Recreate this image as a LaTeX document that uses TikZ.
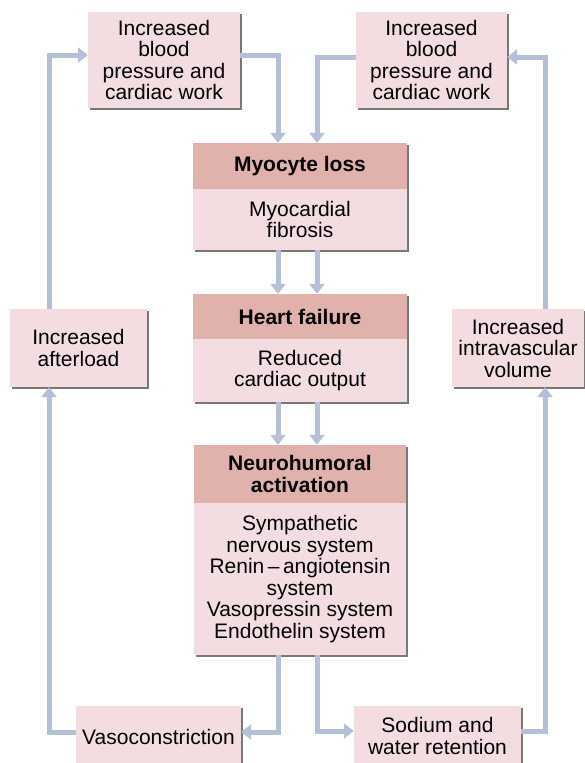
\documentclass[tikz,border=0pt]{standalone}
\usepackage{fontspec}
\setmainfont{Liberation Sans}
\usetikzlibrary{arrows.meta,positioning,calc,shadows}
\definecolor{headcolor}{RGB}{225,177,171}
\definecolor{bodycolor}{RGB}{243,221,224}
\definecolor{linkcolor}{RGB}{180,191,216}
\definecolor{edgecolor}{RGB}{120,120,120}

\begin{document}
\begin{tikzpicture}[
    x=1pt, y=-1pt,
    box/.style={rectangle, fill=bodycolor, inner sep=0pt, align=center, font=\fontsize{21}{21.5}\selectfont,
        drop shadow={shadow xshift=1.5pt, shadow yshift=-1.5pt, fill=edgecolor, opacity=1}},
    head/.style={box, fill=headcolor, font=\fontsize{21}{21.5}\selectfont\bfseries},
    link/.style={draw=linkcolor, line width=5pt, -{Triangle[width=15pt,length=10pt]}}
]
\useasboundingbox (0,0) rectangle (585,763);
\clip (0,0) rectangle (585,763);

% central chain
\node[head, minimum width=214, minimum height=46] (myo) at (300,166) {Myocyte loss};
\node[box, minimum width=214, minimum height=61] (myob) at (300,219.5) {Myocardial\\fibrosis};
\node[head, minimum width=214, minimum height=45] (hf) at (300,316.5) {Heart failure};
\node[box, minimum width=214, minimum height=63] (hfb) at (300,370.5) {Reduced\\cardiac output};
\node[head, minimum width=212, minimum height=58] (neu) at (300,474) {Neurohumoral\\activation};
\node[box, minimum width=212, minimum height=152] (neub) at (300,579) {Sympathetic\\nervous system\\Renin\,--\,angiotensin\\system\\Vasopressin system\\Endothelin system};

% feedback boxes
\node[box, minimum width=152, minimum height=96] (lt) at (164,60) {Increased\\blood\\pressure and\\cardiac work};
\node[box, minimum width=151, minimum height=96] (rt) at (431.5,60) {Increased\\blood\\pressure and\\cardiac work};
\node[box, minimum width=137, minimum height=78] (aft) at (78.5,348) {Increased\\afterload};
\node[box, minimum width=132, minimum height=78] (vol) at (518,348) {Increased\\intravascular\\volume};
\node[box, minimum width=165, minimum height=62] (vas) at (158.5,737) {Vasoconstriction};
\node[box, minimum width=167, minimum height=60] (sod) at (437.5,736) {Sodium and\\water retention};

\draw[link] ($(myob.south)+(-22,0)$) -- ($(hf.north)+(-22,0)$);
\draw[link] ($(myob.south)+(17,0)$) -- ($(hf.north)+(17,0)$);
\draw[link] ($(hfb.south)+(-22,0)$) -- ($(neu.north)+(-22,0)$);
\draw[link] ($(hfb.south)+(17,0)$) -- ($(neu.north)+(17,0)$);

\draw[link] ($(lt.east)+(0,-5)$) -| ($(myo.north)+(-22,0)$);
\draw[link] ($(rt.west)+(0,-3)$) -| ($(myo.north)+(17,0)$);

\draw[link] ($(neub.south)+(-22,0)$) |- ($(vas.east)+(0,-5)$);
\draw[link] ($(neub.south)+(17,0)$) |- ($(sod.west)+(0,-5)$);

\draw[link] ($(vas.west)+(0,-5)$) -| ($(aft.south)+(-29.5,0)$);
\draw[link] ($(aft.north)+(-29.5,0)$) |- ($(lt.west)+(0,-5)$);
\draw[link] ($(sod.east)+(0,-5)$) -| ($(vol.south)+(27,0)$);
\draw[link] ($(vol.north)+(27,0)$) |- ($(rt.east)+(0,-3)$);

\end{tikzpicture}
\end{document}
